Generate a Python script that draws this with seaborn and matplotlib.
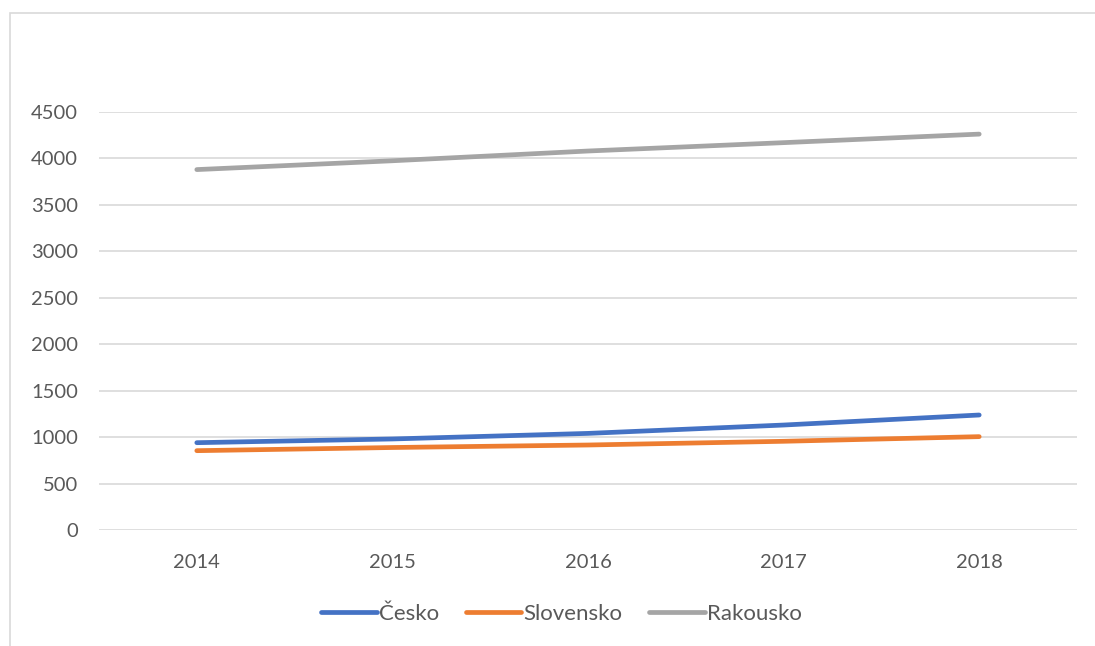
import pandas as pd
import matplotlib
matplotlib.use("Agg")
import matplotlib.pyplot as plt
import matplotlib.patches as mpatches
import seaborn as sns

years = ["2014", "2015", "2016", "2017", "2018"]
cesko = [940, 980, 1040, 1130, 1238]
slovensko = [854, 888, 915, 955, 1005]
rakousko = [3880, 3975, 4080, 4170, 4262]

series = ["Česko", "Slovensko", "Rakousko"]
colors = ["#4472C4", "#ED7D31", "#A5A5A5"]

df = pd.DataFrame({
    "Rok": years * 3,
    "Hodnota": cesko + slovensko + rakousko,
    "Země": [s for s in series for _ in years],
})

sns.set_style("white")
plt.rcParams["font.family"] = ["Lato", "DejaVu Sans"]

fig = plt.figure(figsize=(10.95, 6.46), dpi=100)
ax = fig.add_axes([99 / 1095, 1 - 530 / 646, (1077 - 99) / 1095, (530 - 112) / 646])

sns.lineplot(data=df, x="Rok", y="Hodnota", hue="Země", palette=colors,
             linewidth=3.4, solid_capstyle="round", sort=False, ax=ax)

ax.set_xlim(-0.5, 4.5)
ax.set_ylim(0, 4500)
ax.set_yticks(range(0, 4501, 500))
ax.yaxis.grid(True, color="#d9d9d9", linewidth=1.2)
ax.set_axisbelow(True)
for s in ["left", "right", "top", "bottom"]:
    ax.spines[s].set_visible(False)
ax.tick_params(axis="both", length=0, labelsize=14.5, labelcolor="#595959")
ax.tick_params(axis="y", pad=15)
ax.tick_params(axis="x", pad=17)
ax.set_xlabel("")
ax.set_ylabel("")

handles, labels = ax.get_legend_handles_labels()
leg = ax.legend(handles, labels, loc="center", bbox_to_anchor=(0.473, -0.2),
                ncol=3, frameon=False, fontsize=16, handlelength=2.5,
                handletextpad=0.1, columnspacing=1.2)
for t in leg.get_texts():
    t.set_color("#595959")
for h in leg.get_lines():
    h.set_linewidth(3.4)
    h.set_solid_capstyle("round")

frame = mpatches.Rectangle((10 / 1095, -0.1), 1.1, 1 - 13 / 646 + 0.1,
                           transform=fig.transFigure, fill=False,
                           edgecolor="#d9d9d9", linewidth=1.2, clip_on=False)
fig.patches.append(frame)

fig.savefig("out.png", dpi=100)
